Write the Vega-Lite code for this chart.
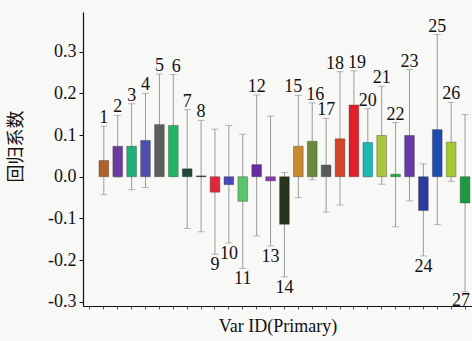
{
  "$schema": "https://vega.github.io/schema/vega-lite/v6.json",
  "width": 389,
  "height": 294,
  "autosize": "none",
  "padding": {"left": 83, "top": 12, "right": 0, "bottom": 35},
  "background": "#f8f8f7",
  "config": {
    "view": {"stroke": null},
    "font": "Liberation Serif"
  },
  "data": {
    "values": [
      {"id": 1, "value": 0.039, "lo": -0.043, "hi": 0.121},
      {"id": 2, "value": 0.073, "lo": -0.001, "hi": 0.147},
      {"id": 3, "value": 0.073, "lo": -0.031, "hi": 0.175},
      {"id": 4, "value": 0.087, "lo": -0.026, "hi": 0.200},
      {"id": 5, "value": 0.125, "lo": 0.004, "hi": 0.246},
      {"id": 6, "value": 0.123, "lo": 0.001, "hi": 0.245},
      {"id": 7, "value": 0.019, "lo": -0.124, "hi": 0.161},
      {"id": 8, "value": 0.002, "lo": -0.132, "hi": 0.135},
      {"id": 9, "value": -0.037, "lo": -0.186, "hi": 0.114},
      {"id": 10, "value": -0.019, "lo": -0.159, "hi": 0.123},
      {"id": 11, "value": -0.059, "lo": -0.220, "hi": 0.102},
      {"id": 12, "value": 0.029, "lo": -0.142, "hi": 0.196},
      {"id": 13, "value": -0.010, "lo": -0.166, "hi": 0.145},
      {"id": 14, "value": -0.114, "lo": -0.240, "hi": 0.010},
      {"id": 15, "value": 0.073, "lo": -0.050, "hi": 0.195},
      {"id": 16, "value": 0.085, "lo": -0.007, "hi": 0.177},
      {"id": 17, "value": 0.028, "lo": -0.085, "hi": 0.140},
      {"id": 18, "value": 0.091, "lo": -0.068, "hi": 0.252},
      {"id": 19, "value": 0.172, "lo": 0.090, "hi": 0.254},
      {"id": 20, "value": 0.082, "lo": 0.000, "hi": 0.163},
      {"id": 21, "value": 0.099, "lo": -0.018, "hi": 0.217},
      {"id": 22, "value": 0.006, "lo": -0.120, "hi": 0.130},
      {"id": 23, "value": 0.099, "lo": -0.058, "hi": 0.257},
      {"id": 24, "value": -0.081, "lo": -0.190, "hi": 0.031},
      {"id": 25, "value": 0.113, "lo": -0.115, "hi": 0.341},
      {"id": 26, "value": 0.083, "lo": -0.011, "hi": 0.178},
      {"id": 27, "value": -0.063, "lo": -0.276, "hi": 0.149}
    ]
  },
  "encoding": {
    "x": {
      "field": "id",
      "type": "ordinal",
      "title": "Var ID(Primary)",
      "scale": {"type": "band", "paddingInner": 0.3, "paddingOuter": 0.15},
      "axis": {
        "labels": false,
        "domainColor": "#111",
        "domainWidth": 1.2,
        "tickColor": "#555",
        "tickSize": 3,
        "titleFont": "Liberation Serif",
        "titleFontSize": 18,
        "titleFontWeight": "normal",
        "titleColor": "#111",
        "titlePadding": 8
      }
    }
  },
  "layer": [
    {
      "mark": {"type": "rule", "color": "#9a9a9a", "strokeWidth": 1},
      "encoding": {
        "y": {
          "field": "lo",
          "type": "quantitative",
          "scale": {"domain": [-0.31, 0.395], "nice": false},
          "title": "回归系数",
          "axis": {
            "values": [-0.3, -0.2, -0.1, 0, 0.1, 0.2, 0.3],
            "labelExpr": "datum.value < -0.0001 ? '-' + format(-datum.value, '.1f') : format(abs(datum.value), '.1f')",
            "grid": false,
            "domainColor": "#111",
            "domainWidth": 1.2,
            "tickColor": "#111",
            "tickSize": 4,
            "labelPadding": 3,
            "labelFont": "Liberation Serif",
            "labelFontSize": 18,
            "labelColor": "#111",
            "titleFont": "Noto Sans CJK SC",
            "titleFontSize": 18,
            "titleFontWeight": "normal",
            "titleColor": "#111",
            "titleBaseline": "bottom",
            "titleX": -58,
            "titleY": 134
          }
        },
        "y2": {"field": "hi"}
      }
    },
    {
      "mark": {"type": "tick", "color": "#9a9a9a", "thickness": 1, "size": 7},
      "encoding": {"y": {"field": "hi", "type": "quantitative"}}
    },
    {
      "mark": {"type": "tick", "color": "#9a9a9a", "thickness": 1, "size": 7},
      "encoding": {"y": {"field": "lo", "type": "quantitative"}}
    },
    {
      "mark": {"type": "rule", "color": "#8a8a8a", "strokeWidth": 0.8},
      "data": {"values": [{"z": 0}]},
      "encoding": {"y": {"field": "z", "type": "quantitative"}}
    },
    {
      "mark": {"type": "bar", "stroke": "#333", "strokeWidth": 0.6, "strokeOpacity": 0.6},
      "encoding": {
        "y": {"field": "value", "type": "quantitative"},
        "y2": {"datum": 0},
        "color": {
          "field": "id",
          "type": "ordinal",
          "legend": null,
          "scale": {
            "domain": [1,2,3,4,5,6,7,8,9,10,11,12,13,14,15,16,17,18,19,20,21,22,23,24,25,26,27],
            "range": ["#b0612a","#6b3c9e","#1fb07a","#4b50ad","#5e5e5e","#22b565","#1d4a36","#111111","#e0283a","#4a48b8","#5cc46a","#6a2aa0","#8a3ab0","#27351d","#c88a30","#6a8a3a","#5a5a5a","#d2452a","#e21e28","#1ab8b0","#a8c83a","#1ab040","#6a38a8","#2a3aa0","#1f4cb0","#a8c832","#1a9a40"]
          }
        }
      }
    },
    {
      "transform": [{"filter": "datum.value >= 0 && indexof([6, 15, 16, 18, 19], datum.id) < 0"}],
      "mark": {"type": "text", "font": "Liberation Serif", "fontSize": 18, "color": "#111", "baseline": "alphabetic", "dy": -3},
      "encoding": {
        "y": {"field": "hi", "type": "quantitative"},
        "text": {"field": "id"}
      }
    },
    {
      "transform": [{"filter": "indexof([15, 18], datum.id) >= 0"}],
      "mark": {"type": "text", "font": "Liberation Serif", "fontSize": 18, "color": "#111", "baseline": "alphabetic", "dy": -3, "dx": -5},
      "encoding": {
        "y": {"field": "hi", "type": "quantitative"},
        "text": {"field": "id"}
      }
    },
    {
      "transform": [{"filter": "indexof([6, 16, 19], datum.id) >= 0"}],
      "mark": {"type": "text", "font": "Liberation Serif", "fontSize": 18, "color": "#111", "baseline": "alphabetic", "dy": -3, "dx": 3},
      "encoding": {
        "y": {"field": "hi", "type": "quantitative"},
        "text": {"field": "id"}
      }
    },
    {
      "transform": [{"filter": "datum.value < 0 && datum.id != 27"}],
      "mark": {"type": "text", "font": "Liberation Serif", "fontSize": 18, "color": "#111", "baseline": "top", "dy": 2},
      "encoding": {
        "y": {"field": "lo", "type": "quantitative"},
        "text": {"field": "id"}
      }
    },
    {
      "transform": [{"filter": "datum.id == 27"}],
      "mark": {"type": "text", "font": "Liberation Serif", "fontSize": 18, "color": "#111", "baseline": "top", "dy": 0, "dx": -4},
      "encoding": {
        "y": {"field": "lo", "type": "quantitative"},
        "text": {"field": "id"}
      }
    }
  ]
}
